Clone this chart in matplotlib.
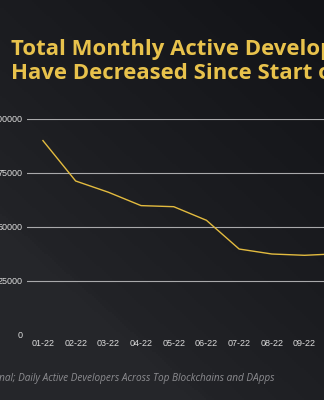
import numpy as np
import matplotlib
matplotlib.use('Agg')
import matplotlib.pyplot as plt
from matplotlib.colors import LinearSegmentedColormap

# data
months = ['01-22', '02-22', '03-22', '04-22', '05-22', '06-22',
          '07-22', '08-22', '09-22', '10-22']
developers = [90000, 71300, 66100, 59900, 59400, 53100,
              39800, 37500, 36900, 37600]
yticks = [0, 25000, 50000, 75000, 100000]

title_lines = ['Total Monthly Active Developers', 'Have Decreased Since Start of 2022']
source = 'Source: Token Terminal; Daily Active Developers Across Top Blockchains and DApps'

W, H = 324, 400
fig = plt.figure(figsize=(W / 100, H / 100), dpi=100)

# background: dark gradient, a bit lighter towards the lower left
bg = fig.add_axes([0, 0, 1, 1])
yy, xx = np.mgrid[0:1:200j, 0:1:162j]
diag = (1 - xx) * 0.55 + yy * 0.75
shade = np.clip(diag, 0, 1)
shade = shade + 0.12 * (diag > 0.95)
cmap = LinearSegmentedColormap.from_list('bg', ['#121317', '#1c1d21', '#28292d'])
bg.imshow(shade, cmap=cmap, aspect='auto', extent=[0, 1, 0, 1], origin='upper',
          vmin=0, vmax=1.25)
bg.set_axis_off()

# plot axes; reaches past the right edge (chart is a crop)
step = 32.7
left = 26.6
x_right = 9.5
ax = fig.add_axes([left / W, 1 - 335 / H, (x_right + 0.5) * step / W, 216 / H])
ax.patch.set_alpha(0)
x = np.arange(len(months))
ax.plot(x, developers, color='#E3BB3F', lw=1.0, zorder=3)
ax.set_xlim(-0.5, x_right)
ax.set_ylim(0, 100000)
ax.set_yticks(yticks)
ax.set_yticklabels([str(v) for v in yticks])
ax.set_xticks(x)
ax.set_xticklabels(months)
for v in yticks[1:]:
    ax.axhline(v, color='#a9a9ab', lw=0.8, zorder=1)
ax.axhline(0, color='#2e2f33', lw=0.8, zorder=1)
for s in ax.spines.values():
    s.set_visible(False)
ax.tick_params(length=0, colors='#dcdcdc', labelsize=6.5, pad=3.0)
for lab in ax.get_xticklabels() + ax.get_yticklabels():
    lab.set_fontfamily('Liberation Sans')

for i, line in enumerate(title_lines):
    fig.text(11 / W, 1 - (55 + 24 * i) / H, line, color='#E8C24C', fontsize=15.9,
             fontweight='bold', family='Open Sans', ha='left', va='baseline')
fig.text(274 / W, 1 - 379 / H, source, color='#8d8d91', fontsize=7.2,
         style='italic', family='Open Sans', ha='right', va='center')

fig.savefig('out.png', dpi=100)
